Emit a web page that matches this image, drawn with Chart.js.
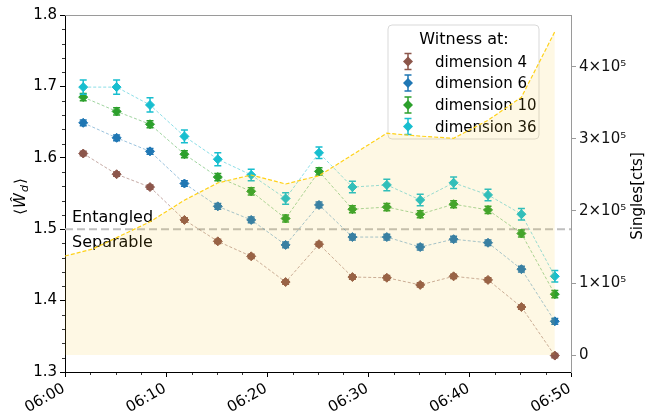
<!DOCTYPE html>
<html><head><meta charset="utf-8">
<script src="https://cdn.jsdelivr.net/npm/chart.js@4.4.1/dist/chart.umd.min.js"></script>
<style>html,body{margin:0;padding:0;background:#fff}</style>
</head><body>
<canvas id="c" width="648" height="414" style="display:block;width:648px;height:414px"></canvas>
<script>
// ---- data (minutes after 06:00) ----
const witnessTimes = [1.8, 5.1, 8.4, 11.8, 15.1, 18.4, 21.8, 25.1, 28.4, 31.8, 35.1, 38.4, 41.8, 45.1, 48.4];
const dim4  = [1.606, 1.577, 1.559, 1.513, 1.483, 1.462, 1.426, 1.479, 1.433, 1.432, 1.422, 1.434, 1.429, 1.391, 1.323];
const dim4Err  = [0.003, 0.003, 0.003, 0.003, 0.003, 0.003, 0.003, 0.003, 0.003, 0.003, 0.003, 0.003, 0.003, 0.003, 0.003];
const dim6  = [1.649, 1.628, 1.609, 1.564, 1.532, 1.513, 1.478, 1.534, 1.489, 1.489, 1.475, 1.486, 1.481, 1.444, 1.371];
const dim6Err  = [0.004, 0.004, 0.004, 0.004, 0.004, 0.004, 0.004, 0.004, 0.004, 0.004, 0.004, 0.004, 0.004, 0.004, 0.004];
const dim10 = [1.685, 1.665, 1.647, 1.605, 1.573, 1.553, 1.515, 1.581, 1.528, 1.531, 1.521, 1.535, 1.527, 1.494, 1.409];
const dim10Err = [0.005, 0.005, 0.005, 0.005, 0.005, 0.005, 0.005, 0.005, 0.005, 0.005, 0.005, 0.005, 0.005, 0.005, 0.005];
const dim36 = [1.699, 1.699, 1.674, 1.630, 1.598, 1.576, 1.543, 1.607, 1.559, 1.562, 1.541, 1.565, 1.548, 1.521, 1.434];
const dim36Err = [0.010, 0.010, 0.010, 0.009, 0.009, 0.008, 0.008, 0.008, 0.008, 0.008, 0.008, 0.008, 0.008, 0.008, 0.008];
const singlesTimes = [0, 2.7, 8.4, 11.8, 15.1, 18.4, 21.8, 25.1, 28.4, 31.8, 35.1, 38.4, 41.8, 45.1, 48.4];
const singles = [137500, 147000, 185000, 215000, 239000, 250000, 237500, 249000, 278000, 308000, 304000, 301000, 326000, 358000, 449000];
const seriesNames = ['dimension 4', 'dimension 6', 'dimension 10', 'dimension 36'];
const seriesColors = ['#8c564b', '#1f77b4', '#2ca02c', '#17becf'];
const lineColors = ['rgba(140,86,75,0.5)', 'rgba(31,119,180,0.45)', 'rgba(44,160,44,0.45)', 'rgba(23,190,207,0.5)'];
const xTickValues = [0, 10, 20, 30, 40, 50];
const xTickLabels = ['06:00', '06:10', '06:20', '06:30', '06:40', '06:50'];
const leftTicks = [1.3, 1.4, 1.5, 1.6, 1.7, 1.8];
const rightTicks = [0, 100000, 200000, 300000, 400000];
const rightTickLabels = ['0', '1×10⁵', '2×10⁵', '3×10⁵', '4×10⁵'];
const threshold = 1.5;

const FONT = 'DejaVu Sans';
const witnessVals = [dim4, dim6, dim10, dim36];
const witnessErrs = [dim4Err, dim6Err, dim10Err, dim36Err];

function pts(xs, ys) { return xs.map((x, i) => ({x: x, y: ys[i]})); }

const datasets = [{
  label: 'Singles',
  data: pts(singlesTimes, singles),
  yAxisID: 'y2',
  showLine: true,
  fill: 'origin',
  backgroundColor: 'rgba(245,200,30,0.12)',
  borderColor: '#ffd21a',
  borderWidth: 1.2,
  borderDash: [4, 2],
  pointRadius: 0,
  tension: 0,
  order: 0
}];
const orders = [4, 3, 2, 1];
for (let k = 0; k < 4; k++) {
  datasets.push({
    label: seriesNames[k],
    data: pts(witnessTimes, witnessVals[k]),
    errs: witnessErrs[k],
    yAxisID: 'y',
    showLine: true,
    borderColor: lineColors[k],
    borderWidth: 1,
    borderDash: [3, 2],
    pointStyle: 'rectRot',
    pointRadius: 4.5,
    pointBackgroundColor: seriesColors[k],
    pointBorderColor: seriesColors[k],
    pointBorderWidth: 1,
    fill: false,
    tension: 0,
    order: orders[k]
  });
}

function drawErr(ctx, x, yT, yB, color) {
  ctx.save();
  ctx.strokeStyle = color; ctx.lineWidth = 1.5; ctx.setLineDash([]);
  ctx.beginPath();
  ctx.moveTo(x, yT); ctx.lineTo(x, yB);
  ctx.moveTo(x - 3.5, yT); ctx.lineTo(x + 3.5, yT);
  ctx.moveTo(x - 3.5, yB); ctx.lineTo(x + 3.5, yB);
  ctx.stroke();
  ctx.restore();
}
function diamond(ctx, x, y, r, color) {
  ctx.save(); ctx.fillStyle = color; ctx.beginPath();
  ctx.moveTo(x, y - r); ctx.lineTo(x + r, y); ctx.lineTo(x, y + r); ctx.lineTo(x - r, y); ctx.closePath(); ctx.fill(); ctx.restore();
}

const deco = {
  id: 'deco',
  beforeDatasetsDraw(chart) {
    const {ctx, chartArea: a, scales: {y}} = chart;
    ctx.save();
    const yy = y.getPixelForValue(threshold);
    ctx.strokeStyle = '#bfbfbf'; ctx.lineWidth = 2; ctx.setLineDash([8, 4]);
    ctx.beginPath(); ctx.moveTo(a.left, yy); ctx.lineTo(a.right, yy); ctx.stroke();
    ctx.setLineDash([]);
    ctx.fillStyle = '#000'; ctx.font = '16px "' + FONT + '"'; ctx.textAlign = 'left'; ctx.textBaseline = 'alphabetic';
    ctx.fillText('Entangled', a.left + 7, yy - 7);
    ctx.fillText('Separable', a.left + 7, yy + 18);
    // legend
    const lx = 388, ly = 25, lw = 151, lh = 114, r = 4;
    ctx.beginPath();
    ctx.moveTo(lx + r, ly); ctx.lineTo(lx + lw - r, ly); ctx.quadraticCurveTo(lx + lw, ly, lx + lw, ly + r);
    ctx.lineTo(lx + lw, ly + lh - r); ctx.quadraticCurveTo(lx + lw, ly + lh, lx + lw - r, ly + lh);
    ctx.lineTo(lx + r, ly + lh); ctx.quadraticCurveTo(lx, ly + lh, lx, ly + lh - r);
    ctx.lineTo(lx, ly + r); ctx.quadraticCurveTo(lx, ly, lx + r, ly); ctx.closePath();
    ctx.fillStyle = 'rgba(255,255,255,0.85)'; ctx.fill();
    ctx.strokeStyle = '#d9d9d9'; ctx.lineWidth = 1; ctx.stroke();
    ctx.fillStyle = '#000'; ctx.font = '16px "' + FONT + '"'; ctx.textAlign = 'center';
    ctx.fillText('Witness at:', lx + lw / 2 + 0.5, 44);
    ctx.font = '15px "' + FONT + '"'; ctx.textAlign = 'left';
    const baselines = [66.5, 88, 110, 131.5];
    for (let k = 0; k < 4; k++) {
      const cy = baselines[k] - 5;
      drawErr(ctx, 408, cy - 8, cy + 8, seriesColors[k]);
      diamond(ctx, 408, cy, 5, seriesColors[k]);
      ctx.fillStyle = '#000';
      ctx.fillText(seriesNames[k], 435, baselines[k]);
    }
    ctx.restore();
  },
  beforeDatasetDraw(chart, args) {
    const ds = chart.data.datasets[args.index];
    if (!ds.errs) return;
    const y = chart.scales.y, ctx = chart.ctx;
    const col = seriesColors[seriesNames.indexOf(ds.label)];
    args.meta.data.forEach((p, i) => {
      const v = ds.data[i].y, e = ds.errs[i];
      drawErr(ctx, p.x, y.getPixelForValue(v + e), y.getPixelForValue(v - e), col);
    });
  },
  afterDraw(chart) {
    const {ctx, chartArea: a, scales: {x, y}} = chart;
    ctx.save();
    ctx.strokeStyle = '#9a9a9a'; ctx.lineWidth = 1;
    ctx.beginPath(); ctx.moveTo(a.left, a.top + 0.5); ctx.lineTo(a.right, a.top + 0.5); ctx.stroke();
    ctx.strokeStyle = '#000'; ctx.lineWidth = 0.8;
    ctx.beginPath();
    for (let m = 0; m <= 50; m += 2.5) {
      if (m % 10 === 0) continue;
      const px = Math.round(x.getPixelForValue(m)) + 0.5;
      ctx.moveTo(px, a.bottom); ctx.lineTo(px, a.bottom + 3);
    }
    for (let v = 1.3; v <= 1.8001; v += 0.02) {
      const r10 = Math.round(v * 100);
      if (r10 % 10 === 0) continue;
      const py = Math.round(y.getPixelForValue(v)) + 0.5;
      ctx.moveTo(a.left, py); ctx.lineTo(a.left - 3, py);
    }
    ctx.stroke();
    ctx.restore();
    // x tick labels (rotated 30°, right end at the tick)
    ctx.save();
    ctx.fillStyle = '#000'; ctx.font = '15px "' + FONT + '"';
    ctx.textAlign = 'right'; ctx.textBaseline = 'top';
    xTickValues.forEach((v, i) => {
      const px = x.getPixelForValue(v);
      ctx.save();
      ctx.translate(px - 5, a.bottom + 9);
      ctx.rotate(-Math.PI / 6);
      ctx.fillText(xTickLabels[i], 0, 0);
      ctx.restore();
    });
    ctx.restore();
    // left axis title
    ctx.save();
    ctx.translate(20, 196);
    ctx.rotate(-Math.PI / 2);
    ctx.fillStyle = '#000';
    ctx.textBaseline = 'alphabetic';
    const f1 = '15px "' + FONT + '"', f2 = 'italic 15px "' + FONT + '"', f3 = 'italic 11px "' + FONT + '"';
    const parts = [['⟨', f1, 0], ['Ŵ', f2, 0], ['d', f3, 3], ['⟩', f1, 0]];
    let w = 0;
    parts.forEach(p => { ctx.font = p[1]; p.push(ctx.measureText(p[0]).width); w += p[3] + 1; });
    let cx = -w / 2;
    parts.forEach(p => { ctx.font = p[1]; ctx.fillText(p[0], cx, 5 + p[2]); cx += p[3] + 1; });
    ctx.restore();
    // right axis title
    ctx.save();
    ctx.translate(638, 196);
    ctx.rotate(-Math.PI / 2);
    ctx.fillStyle = '#000'; ctx.font = '15px "' + FONT + '"'; ctx.textAlign = 'center'; ctx.textBaseline = 'middle';
    ctx.fillText('Singles[cts]', 0, 0);
    ctx.restore();
  }
};

new Chart(document.getElementById('c'), {
  type: 'scatter',
  data: {datasets: datasets},
  options: {
    responsive: false,
    animation: false,
    devicePixelRatio: 1,
    layout: {padding: {top: 15, left: 0, right: 0, bottom: 0}},
    plugins: {legend: {display: false}, tooltip: {enabled: false}},
    scales: {
      x: {
        type: 'linear', min: 0, max: 50,
        afterBuildTicks: s => { s.ticks = xTickValues.map(v => ({value: v})); },
        afterFit: s => { s.height = 42; },
        ticks: {display: false},
        grid: {display: true, drawOnChartArea: false, drawTicks: true, tickLength: 5, color: '#000'},
        border: {display: true, color: '#000', width: 1}
      },
      y: {
        type: 'linear', position: 'left', min: 1.3, max: 1.8,
        afterBuildTicks: s => { s.ticks = leftTicks.map(v => ({value: v})); },
        afterFit: s => { s.width = 65; },
        ticks: {callback: v => v.toFixed(1), color: '#000', font: {family: FONT, size: 15}, padding: 3},
        grid: {display: true, drawOnChartArea: false, drawTicks: true, tickLength: 5, color: '#000'},
        border: {display: true, color: '#000', width: 1}
      },
      y2: {
        type: 'linear', position: 'right', min: -23611, max: 472222,
        afterBuildTicks: s => { s.ticks = rightTicks.map(v => ({value: v})); },
        afterFit: s => { s.width = 77; },
        ticks: {callback: v => rightTickLabels[rightTicks.indexOf(v)], color: '#111', font: {family: FONT, size: 15}, padding: 3},
        grid: {display: true, drawOnChartArea: false, drawTicks: true, tickLength: 5, color: '#9a9a9a'},
        border: {display: true, color: '#9a9a9a', width: 1}
      }
    }
  },
  plugins: [deco]
});
</script>
</body></html>
